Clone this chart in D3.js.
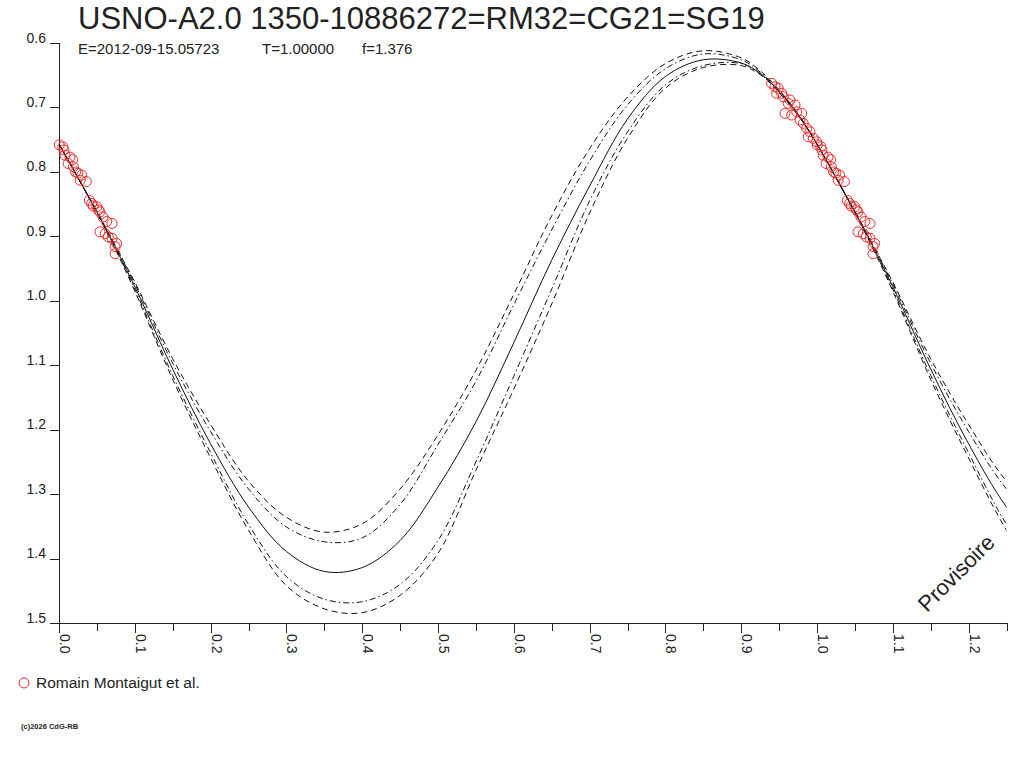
<!DOCTYPE html>
<html><head><meta charset="utf-8">
<script src="https://cdn.jsdelivr.net/npm/d3@7"></script>
<style>
body{margin:0;background:#fff}
svg{display:block}
text{font-family:"Liberation Sans",Arial,sans-serif;fill:#222}
</style>
</head><body>
<svg id="c" width="1024" height="768"></svg>
<script>
// ---- data ----
const titleText = "USNO-A2.0 1350-10886272=RM32=CG21=SG19";
const subTexts = ["E=2012-09-15.05723", "T=1.00000", "f=1.376"];
const legendLabel = "Romain Montaigut et al.";
const footerText = "(c)2026 CdG-RB";
const stampText = "Provisoire";

const yTicks = [0.6,0.7,0.8,0.9,1.0,1.1,1.2,1.3,1.4,1.5];
const xMajorTicks = [0,0.1,0.2,0.3,0.4,0.5,0.6,0.7,0.8,0.9,1.0,1.1,1.2];
const xMinorTicks = [0.05,0.15,0.25,0.35,0.45,0.55,0.65,0.75,0.85,0.95,1.05,1.15,1.25];

// model curves: phase grid and magnitudes
const phases   = [0,0.025,0.05,0.075,0.1,0.15,0.2,0.25,0.3,0.35,0.4,0.45,0.5,0.55,0.6,0.65,0.7,0.75,0.8,0.85,0.9,0.925,0.95,0.975,1.0];
const fitMag   = [0.757,0.809,0.862,0.919,0.978,1.106,1.222,1.320,1.389,1.420,1.414,1.372,1.289,1.188,1.065,0.937,0.822,0.718,0.652,0.626,0.631,0.647,0.675,0.711,0.757];
const upOuter  = [0.757,0.809,0.861,0.916,0.971,1.090,1.192,1.280,1.336,1.359,1.346,1.292,1.208,1.108,0.990,0.868,0.764,0.684,0.632,0.612,0.623,0.643,0.673,0.710,0.757];
const upInner  = [0.757,0.809,0.862,0.917,0.974,1.097,1.203,1.292,1.351,1.374,1.368,1.316,1.223,1.125,1.006,0.890,0.783,0.696,0.640,0.617,0.626,0.645,0.674,0.710,0.757];
const lowInner = [0.757,0.809,0.863,0.920,0.982,1.116,1.236,1.347,1.428,1.463,1.467,1.440,1.372,1.250,1.117,0.982,0.845,0.738,0.665,0.635,0.632,0.648,0.676,0.712,0.757];
const lowOuter = [0.757,0.809,0.864,0.922,0.985,1.122,1.244,1.356,1.442,1.478,1.484,1.457,1.392,1.263,1.137,1.005,0.864,0.748,0.670,0.638,0.635,0.649,0.677,0.712,0.757];

// observations (phase, magnitude)
const obsPhase = [0.0004,0.005,0.0066,0.008,0.0145,0.012,0.018,0.019,0.022,0.025,0.030,0.028,0.036,0.040,0.043,0.045,0.050,0.052,0.054,0.058,0.063,0.070,0.054,0.061,0.065,0.070,0.076,0.074,0.074,
  0.9402,0.9446,0.9490,0.9468,0.9534,0.9555,0.9644,0.9621,0.9710,0.9578,0.9666,0.9732,0.9798,0.9776,0.9819,0.9864,0.9908,0.9885,0.9951,0.9996];
const obsMag = [0.758,0.761,0.766,0.774,0.777,0.787,0.781,0.792,0.800,0.802,0.805,0.813,0.815,0.844,0.849,0.853,0.854,0.859,0.862,0.870,0.877,0.880,0.893,0.896,0.901,0.903,0.911,0.916,0.927,
  0.6626,0.6679,0.6703,0.6781,0.6781,0.6834,0.6885,0.6936,0.6963,0.7092,0.7118,0.7067,0.7092,0.7196,0.7247,0.7325,0.7377,0.7455,0.7480,0.7533];

// ---- drawing ----
const svg = d3.select("#c");
const x = d3.scaleLinear().domain([0,1.25]).range([59,1006.5]);
const y = d3.scaleLinear().domain([0.6,1.5]).range([43,623]);
const X0 = x(0), X1 = x(1.25), Y0 = y(0.6), Y1 = y(1.5);

svg.append("defs").append("clipPath").attr("id","plot")
  .append("rect").attr("x",X0).attr("y",0).attr("width",X1-X0).attr("height",Y1);

// title
svg.append("text").attr("x",78).attr("y",29).attr("font-size",31).text(titleText);
const subX = [78,262,362];
subTexts.forEach((t,i)=>svg.append("text").attr("x",subX[i]).attr("y",54).attr("font-size",15).text(t));

// axes
const axG = svg.append("g").attr("shape-rendering","crispEdges");
const yAxis = d3.axisLeft(y).tickValues(yTicks).tickSize(9).tickPadding(4).tickFormat(d3.format(".1f"));
const gy = axG.append("g").attr("transform",`translate(${X0},0)`).call(yAxis);
gy.select(".domain").remove();
gy.selectAll(".tick line").attr("stroke","#222");
gy.selectAll(".tick text").attr("dy","0").attr("y",-1).attr("font-size",14)
  .attr("font-family",'"Liberation Sans",Arial,sans-serif').attr("fill","#222");

const xMajor = d3.axisBottom(x).tickValues(xMajorTicks).tickSize(10).tickFormat(d3.format(".1f"));
const gx = axG.append("g").attr("transform",`translate(0,${Y1})`).call(xMajor);
gx.select(".domain").remove();
gx.selectAll(".tick line").attr("stroke","#222");
gx.selectAll(".tick text").attr("x",0).attr("y",0).attr("dy","0")
  .attr("transform","translate(0.5,11) rotate(90)").attr("text-anchor","start")
  .attr("font-size",14).attr("font-family",'"Liberation Sans",Arial,sans-serif').attr("fill","#222");

const xMinor = d3.axisBottom(x).tickValues(xMinorTicks).tickSize(8).tickFormat("");
const gxm = axG.append("g").attr("transform",`translate(0,${Y1})`).call(xMinor);
gxm.select(".domain").remove();
gxm.selectAll(".tick line").attr("stroke","#222");

axG.append("line").attr("x1",X0+0.5).attr("x2",X0+0.5).attr("y1",Y0).attr("y2",Y1).attr("stroke","#222");
axG.append("line").attr("x1",50).attr("x2",X1+0.5).attr("y1",Y1+0.5).attr("y2",Y1+0.5).attr("stroke","#222");

// curves (phase 0..1 plus repeat for 1..1.25)
function cycle(mags){
  const pts = phases.map((p,i)=>[p,mags[i]]);
  const ext = phases.map((p,i)=>[p+1,mags[i]]).filter(d=>d[0]>1 && d[0]<=1.35);
  return pts.concat(ext);
}
const line = d3.line().x(d=>x(d[0])).y(d=>y(d[1])).curve(d3.curveCatmullRom.alpha(0.5));
const curves = [
  {m:upOuter, dash:"6,4"},
  {m:upInner, dash:"6,3,1.5,3"},
  {m:fitMag, dash:null},
  {m:lowInner, dash:"6,3,1.5,3"},
  {m:lowOuter, dash:"6,4"}
];
const cg = svg.append("g").attr("clip-path","url(#plot)");
curves.forEach(c=>{
  cg.append("path").attr("d",line(cycle(c.m))).attr("fill","none")
    .attr("stroke","#111").attr("stroke-width",1)
    .attr("stroke-dasharray",c.dash);
});

// observations
const obs = [];
obsPhase.forEach((p,i)=>{
  [p,p+1].forEach(q=>{ if(q>=0 && q<=1.25) obs.push([q,obsMag[i]]); });
});
svg.append("g").selectAll("circle").data(obs).join("circle")
  .attr("cx",d=>x(d[0])).attr("cy",d=>y(d[1])).attr("r",5)
  .attr("fill","none").attr("stroke","#e62e2e").attr("stroke-width",1);

// stamp
svg.append("text").attr("transform","translate(927,613) rotate(-45)")
  .attr("font-size",22).attr("fill","#222").text(stampText);

// legend
svg.append("circle").attr("cx",24).attr("cy",683).attr("r",5)
  .attr("fill","none").attr("stroke","#e62e2e").attr("stroke-width",1);
svg.append("text").attr("x",36).attr("y",688).attr("font-size",15.5).text(legendLabel);

// footer
svg.append("text").attr("x",21).attr("y",729).attr("font-size",7.5)
  .attr("font-weight","bold").text(footerText);
</script>
</body></html>
